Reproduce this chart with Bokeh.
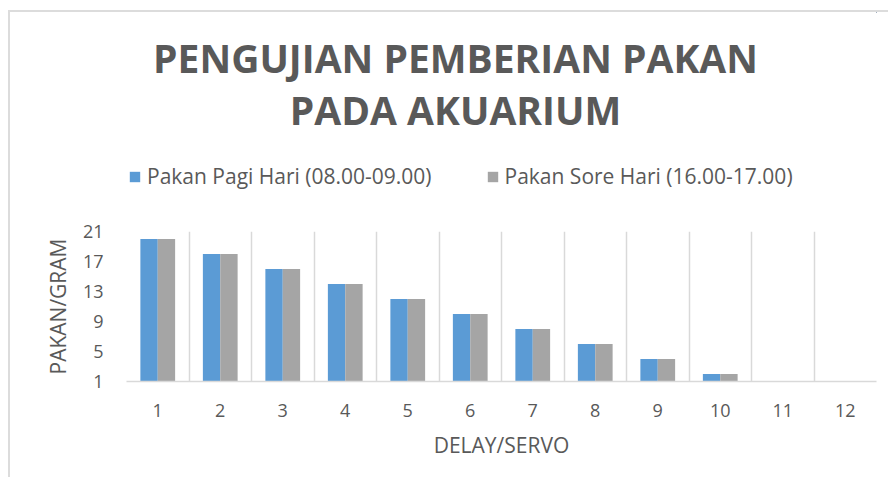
import numpy as np
from bokeh.plotting import figure
from bokeh.layouts import column
from bokeh.models import (Range1d, FixedTicker, Legend, LegendItem, Label)
from bokeh.embed import file_html
from bokeh.resources import INLINE

categories = ["1", "2", "3", "4", "5", "6", "7", "8", "9", "10", "11", "12"]
pakan_pagi = [20, 18, 16, 14, 12, 10, 8, 6, 4, 2, 0, 0]
pakan_sore = [20, 18, 16, 14, 12, 10, 8, 6, 4, 2, 0, 0]
y_ticks = [1, 5, 9, 13, 17, 21]
series_names = ["Pakan Pagi Hari (08.00-09.00)", "Pakan Sore Hari (16.00-17.00)"]
series_colors = ["#5B9BD5", "#A5A5A5"]
title_lines = ["PENGUJIAN PEMBERIAN PAKAN", "PADA AKUARIUM"]

TEXT = "#595959"
GRID = "#d9d9d9"
FONT = "Open Sans"
W = 878

xs = np.arange(1, len(categories) + 1)
w = 0.278

# ---------------- header: title + legend ----------------
head = figure(width=W, height=204, output_backend="svg", toolbar_location=None,
              x_axis_type=None, y_axis_type=None,
              x_range=Range1d(-20, -19), y_range=Range1d(-20, -19))
head.min_border = 0
head.outline_line_color = None
head.background_fill_color = "white"
head.border_fill_color = "white"

for txt, yb in zip(title_lines, [159, 107]):
    head.add_layout(Label(x=329, y=yb, x_units="screen", y_units="screen",
                          text=txt, text_align="center", text_baseline="alphabetic",
                          text_font=FONT, text_font_size="39px",
                          text_font_style="bold", text_color=TEXT))

# legend proxies (same data, drawn outside the header's visible range)
proxies = [head.vbar(x=xs, top=vals, bottom=0, width=w, fill_color=c, line_color=None)
           for vals, c in zip([pakan_pagi, pakan_sore], series_colors)]
legend = Legend(items=[LegendItem(label=n, renderers=[r])
                       for n, r in zip(series_names, proxies)],
                location=(2, 26), orientation="horizontal",
                glyph_width=13, glyph_height=13, label_standoff=6, spacing=54,
                padding=0, margin=0, border_line_color=None,
                background_fill_alpha=0, label_text_font=FONT,
                label_text_font_size="21px", label_text_color=TEXT)
head.add_layout(legend)

# ---------------- main chart ----------------
p = figure(width=W, height=261, output_backend="svg", toolbar_location=None,
           x_range=Range1d(0.5, len(categories) + 0.5), y_range=Range1d(1, 21))
p.min_border_left = 116
p.min_border_right = 12
p.min_border_top = 15
p.min_border_bottom = 96
p.outline_line_color = None
p.background_fill_color = "white"
p.border_fill_color = "white"

p.vbar(x=xs - w / 2, top=pakan_pagi, bottom=0, width=w,
       fill_color=series_colors[0], line_color=None)
p.vbar(x=xs + w / 2, top=pakan_sore, bottom=0, width=w,
       fill_color=series_colors[1], line_color=None)

p.xaxis.ticker = FixedTicker(ticks=list(xs))
p.xaxis.major_label_overrides = {int(i): c for i, c in zip(xs, categories)}
p.xaxis.axis_line_color = GRID
p.xaxis.axis_line_width = 1.5
p.xaxis.major_tick_line_color = None
p.xaxis.minor_tick_line_color = None
p.xaxis.major_label_text_font = FONT
p.xaxis.major_label_text_font_size = "18px"
p.xaxis.major_label_text_color = TEXT
p.xaxis.major_label_standoff = 16
p.xaxis.axis_label = "DELAY/SERVO"
p.xaxis.axis_label_text_font = FONT
p.xaxis.axis_label_text_font_size = "21px"
p.xaxis.axis_label_text_font_style = "normal"
p.xaxis.axis_label_text_color = TEXT
p.xaxis.axis_label_standoff = 11

p.yaxis.ticker = FixedTicker(ticks=y_ticks)
p.yaxis.axis_line_color = None
p.yaxis.major_tick_line_color = None
p.yaxis.minor_tick_line_color = None
p.yaxis.major_label_text_font = FONT
p.yaxis.major_label_text_font_size = "18px"
p.yaxis.major_label_text_color = TEXT
p.yaxis.major_label_standoff = 17
p.yaxis.axis_label = "PAKAN/GRAM"
p.yaxis.axis_label_text_font = FONT
p.yaxis.axis_label_text_font_size = "21px"
p.yaxis.axis_label_text_font_style = "normal"
p.yaxis.axis_label_text_color = TEXT
p.yaxis.axis_label_standoff = 8

p.ygrid.visible = False
p.xgrid.ticker = FixedTicker(ticks=[i + 0.5 for i in range(len(categories) + 1)])
p.xgrid.grid_line_color = GRID
p.xgrid.grid_line_width = 1.5

layout = column(head, p, spacing=0,
                styles={"margin-left": "8px", "margin-top": "10px",
                        "border-left": "2px solid #dcdcdc",
                        "border-top": "2px solid #dcdcdc",
                        "background-color": "white"})

open("out.html", "w").write(file_html(layout, INLINE))
